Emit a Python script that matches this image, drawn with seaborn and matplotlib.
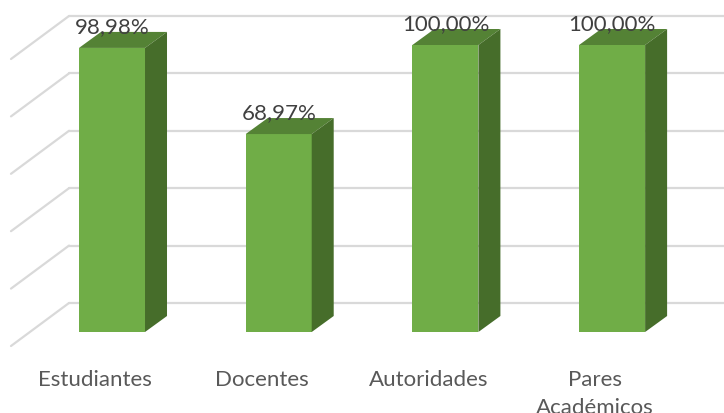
import matplotlib
matplotlib.use("Agg")
import matplotlib.pyplot as plt
from matplotlib.patches import Polygon
from matplotlib.transforms import ScaledTranslation
import pandas as pd
import seaborn as sns

# --- data ---
categories = ["Estudiantes", "Docentes", "Autoridades", "Pares\nAcadémicos"]
values = [98.98, 68.97, 100.00, 100.00]
grid_ticks = [0, 20, 40, 60, 80, 100]

df = pd.DataFrame({"grupo": categories, "porcentaje": values})
labels = [f"{v:.2f}%".replace(".", ",") for v in values]

sns.set_style("white")
plt.rcParams["font.family"] = ["Lato", "DejaVu Sans"]

# --- layout (pixels) ---
W, H, DPI = 724, 414, 100
AX_BOTTOM = 50
px_x = 166.7      # px per category step
px_y = 2.87       # px per percent
x0_px = 112       # centre of first bar
y0_px = 81 - AX_BOTTOM  # baseline above axes bottom

fig = plt.figure(figsize=(W / DPI, H / DPI), dpi=DPI)
ax = fig.add_axes([0, AX_BOTTOM / H, 1, 1 - AX_BOTTOM / H])

# 3d look: bar depth and back wall offset, in data units
bar_dx, bar_dy = 22 / px_x, 16 / px_y
wall_dy = 29 / px_y
side_dx, side_dy = 58 / px_x, 43 / px_y

front = "#70AD47"
top_col = "#548235"
side_col = "#466D2A"
grid_col = "#D9D9D9"

sns.barplot(data=df, x="grupo", y="porcentaje", color=front, saturation=1,
            width=0.396, linewidth=0, ax=ax, zorder=3)

# gridlines on the back wall plus the left side wall
wall_x = (69 - x0_px) / px_x
for t in grid_ticks:
    yw = t + wall_dy
    ax.plot([wall_x, 10], [yw, yw], color=grid_col, lw=1.6, zorder=1)
    ax.plot([wall_x, wall_x - side_dx], [yw, yw - side_dy], color=grid_col,
            lw=1.6, zorder=1)

# top and side faces
for p in ax.patches[:len(values)]:
    x1 = p.get_x()
    x2 = x1 + p.get_width()
    h = p.get_height()
    top = Polygon([(x1, h), (x2, h), (x2 + bar_dx, h + bar_dy),
                   (x1 + bar_dx, h + bar_dy)], closed=True,
                  facecolor=top_col, edgecolor="none", zorder=3)
    side = Polygon([(x2, 0), (x2 + bar_dx, bar_dy), (x2 + bar_dx, h + bar_dy),
                    (x2, h)], closed=True, facecolor=side_col,
                   edgecolor="none", zorder=3)
    ax.add_patch(top)
    ax.add_patch(side)

for i, (v, lab) in enumerate(zip(values, labels)):
    ax.text(i, v + bar_dy, lab, ha="center", va="baseline", fontsize=16,
            color="#404040", zorder=5)

ax.set_xlim(-x0_px / px_x, (W - x0_px) / px_x)
ax.set_ylim(-y0_px / px_y, (H - AX_BOTTOM - y0_px) / px_y)
ax.set_xlabel("")
ax.set_ylabel("")
ax.set_yticks([])
ax.tick_params(axis="x", length=0, pad=4, labelsize=16, labelcolor="#595959")
shift = ScaledTranslation(-17 / DPI, 0, fig.dpi_scale_trans)
for lab in ax.get_xticklabels():
    lab.set_transform(lab.get_transform() + shift)
    lab.set_linespacing(1.5)
sns.despine(ax=ax, left=True, bottom=True)

fig.savefig("out.png", dpi=DPI)
